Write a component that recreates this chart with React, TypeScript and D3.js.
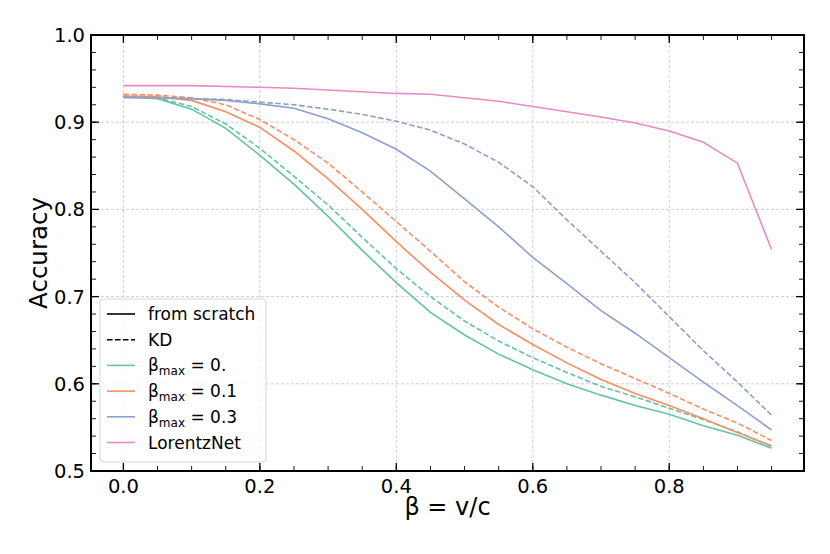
import React from "react";
import * as d3 from "d3";

// beta values where accuracy was evaluated
const betas = [
  0, 0.05, 0.1, 0.15, 0.2, 0.25, 0.3, 0.35, 0.4, 0.45, 0.5, 0.55, 0.6, 0.65,
  0.7, 0.75, 0.8, 0.85, 0.9, 0.95,
];

const scratch0 = [
  0.929, 0.927, 0.915, 0.893, 0.862, 0.829, 0.792, 0.753, 0.716, 0.682, 0.656,
  0.634, 0.616, 0.6, 0.587, 0.575, 0.565, 0.552, 0.541, 0.526,
];
const kd0 = [
  0.93, 0.928, 0.918, 0.898, 0.87, 0.838, 0.805, 0.768, 0.732, 0.7, 0.672,
  0.649, 0.63, 0.613, 0.597, 0.585, 0.572, 0.559, 0.545, 0.528,
];
const scratch01 = [
  0.93, 0.929, 0.925, 0.912, 0.894, 0.867, 0.835, 0.8, 0.763, 0.728, 0.696,
  0.668, 0.645, 0.624, 0.605, 0.589, 0.575, 0.56, 0.544, 0.529,
];
const kd01 = [
  0.932, 0.931, 0.928, 0.92, 0.903, 0.88, 0.853, 0.82, 0.786, 0.752, 0.717,
  0.688, 0.663, 0.642, 0.623, 0.606, 0.589, 0.571, 0.555, 0.535,
];
const scratch03 = [
  0.928, 0.928, 0.927, 0.925, 0.921, 0.916, 0.904, 0.888, 0.869, 0.844, 0.812,
  0.78, 0.745, 0.715, 0.684, 0.658, 0.63, 0.602, 0.575, 0.547,
];
const kd03 = [
  0.929, 0.928, 0.927, 0.926, 0.923, 0.92, 0.915, 0.909, 0.901, 0.891, 0.875,
  0.854, 0.826, 0.788, 0.752, 0.716, 0.677, 0.638, 0.602, 0.564,
];
const lorentzNet = [
  0.942, 0.942, 0.942, 0.941, 0.94, 0.939, 0.937, 0.935, 0.933, 0.932, 0.928,
  0.924, 0.918, 0.912, 0.906, 0.899, 0.89, 0.877, 0.853, 0.754,
];

const xTicks = [0, 0.2, 0.4, 0.6, 0.8];
const yTicks = [0.5, 0.6, 0.7, 0.8, 0.9, 1.0];

const colors = ["#66c2a5", "#fc8d62", "#8da0cb", "#e78ac3"];

const series = [
  { values: scratch0, color: colors[0], dashed: false },
  { values: kd0, color: colors[0], dashed: true },
  { values: scratch01, color: colors[1], dashed: false },
  { values: kd01, color: colors[1], dashed: true },
  { values: scratch03, color: colors[2], dashed: false },
  { values: kd03, color: colors[2], dashed: true },
  { values: lorentzNet, color: colors[3], dashed: false },
];

const legendItems = [
  { label: "from scratch", color: "#000", dashed: false, sub: null },
  { label: "KD", color: "#000", dashed: true, sub: null },
  { label: " = 0.", color: colors[0], dashed: false, sub: "max" },
  { label: " = 0.1", color: colors[1], dashed: false, sub: "max" },
  { label: " = 0.3", color: colors[2], dashed: false, sub: "max" },
  { label: "LorentzNet", color: colors[3], dashed: false, sub: null },
];

const App: React.FC = () => {
  const width = 830;
  const height = 554;
  const left = 91;
  const right = 804;
  const top = 35;
  const bottom = 471;
  const font = "DejaVu Sans, sans-serif";

  const x = d3.scaleLinear().domain([-0.0475, 0.9975]).range([left, right]);
  const y = d3.scaleLinear().domain([0.5, 1.0]).range([bottom, top]);

  const line = d3
    .line<number>()
    .x((_, i) => x(betas[i]))
    .y((d) => y(d));

  const xMinor = d3.range(0, 0.96, 0.05);
  const yMinor = d3.range(0.5, 1.001, 0.02);

  const legX = 100;
  const legY = 299;
  const rowH = 25.7;

  return (
    <svg
      width={width}
      height={height}
      style={{ position: "absolute", left: 0, top: 0, background: "#fff" }}
      fontFamily={font}
    >
      {/* grid */}
      {xTicks.map((t) => (
        <line
          key={`gx${t}`}
          x1={x(t)}
          x2={x(t)}
          y1={top}
          y2={bottom}
          stroke="#c4c4c4"
          strokeWidth={0.8}
          strokeDasharray="3,2"
        />
      ))}
      {yTicks.map((t) => (
        <line
          key={`gy${t}`}
          x1={left}
          x2={right}
          y1={y(t)}
          y2={y(t)}
          stroke="#c4c4c4"
          strokeWidth={0.8}
          strokeDasharray="3,2"
        />
      ))}

      {/* curves */}
      {series.map((s, i) => (
        <path
          key={i}
          d={line(s.values) ?? ""}
          fill="none"
          stroke={s.color}
          strokeWidth={1.6}
          strokeDasharray={s.dashed ? "5.5,2.5" : undefined}
        />
      ))}

      {/* minor ticks */}
      {xMinor.map((t, i) => (
        <g key={`mx${i}`} stroke="#000" strokeWidth={0.9}>
          <line x1={x(t)} x2={x(t)} y1={bottom} y2={bottom - 5} />
          <line x1={x(t)} x2={x(t)} y1={top} y2={top + 5} />
        </g>
      ))}
      {yMinor.map((t, i) => (
        <g key={`my${i}`} stroke="#000" strokeWidth={0.9}>
          <line x1={left} x2={left + 5} y1={y(t)} y2={y(t)} />
          <line x1={right} x2={right - 5} y1={y(t)} y2={y(t)} />
        </g>
      ))}
      {/* major ticks */}
      {xTicks.map((t) => (
        <g key={`tx${t}`} stroke="#000" strokeWidth={1.3}>
          <line x1={x(t)} x2={x(t)} y1={bottom} y2={bottom - 8} />
          <line x1={x(t)} x2={x(t)} y1={top} y2={top + 8} />
        </g>
      ))}
      {yTicks.map((t) => (
        <g key={`ty${t}`} stroke="#000" strokeWidth={1.3}>
          <line x1={left} x2={left + 8} y1={y(t)} y2={y(t)} />
          <line x1={right} x2={right - 8} y1={y(t)} y2={y(t)} />
        </g>
      ))}

      {/* legend */}
      <rect
        x={legX}
        y={legY}
        width={166}
        height={163}
        rx={3}
        fill="#fff"
        fillOpacity={0.8}
        stroke="#d0d0d0"
        strokeWidth={0.9}
      />
      {legendItems.map((item, i) => {
        const cy = legY + 15 + i * rowH;
        return (
          <g key={`leg${i}`}>
            <line
              x1={legX + 7}
              x2={legX + 35}
              y1={cy}
              y2={cy}
              stroke={item.color}
              strokeWidth={1.6}
              strokeDasharray={item.dashed ? "5.5,2.5" : undefined}
            />
            <text x={legX + 48} y={cy + 6} fontSize={17} fill="#000">
              {item.sub ? (
                <>
                  β
                  <tspan fontSize={12} dy={4}>
                    {item.sub}
                  </tspan>
                  <tspan dy={-4}>{item.label}</tspan>
                </>
              ) : (
                item.label
              )}
            </text>
          </g>
        );
      })}

      {/* spines */}
      <rect
        x={left}
        y={top}
        width={right - left}
        height={bottom - top}
        fill="none"
        stroke="#000"
        strokeWidth={2}
      />

      {/* tick labels */}
      {xTicks.map((t) => (
        <text
          key={`lx${t}`}
          x={x(t)}
          y={bottom + 22}
          textAnchor="middle"
          fontSize={19.5}
          fill="#000"
        >
          {d3.format(".1f")(t)}
        </text>
      ))}
      {yTicks.map((t) => (
        <text
          key={`ly${t}`}
          x={left - 6}
          y={y(t) + 7}
          textAnchor="end"
          fontSize={19.5}
          fill="#000"
        >
          {d3.format(".1f")(t)}
        </text>
      ))}

      {/* axis labels */}
      <text
        x={(left + right) / 2}
        y={515}
        textAnchor="middle"
        fontSize={24}
        fill="#000"
      >
        β = v/c
      </text>
      <text
        transform={`translate(47, ${(top + bottom) / 2}) rotate(-90)`}
        textAnchor="middle"
        fontSize={24.5}
        fill="#000"
      >
        Accuracy
      </text>
    </svg>
  );
};

export default App;
